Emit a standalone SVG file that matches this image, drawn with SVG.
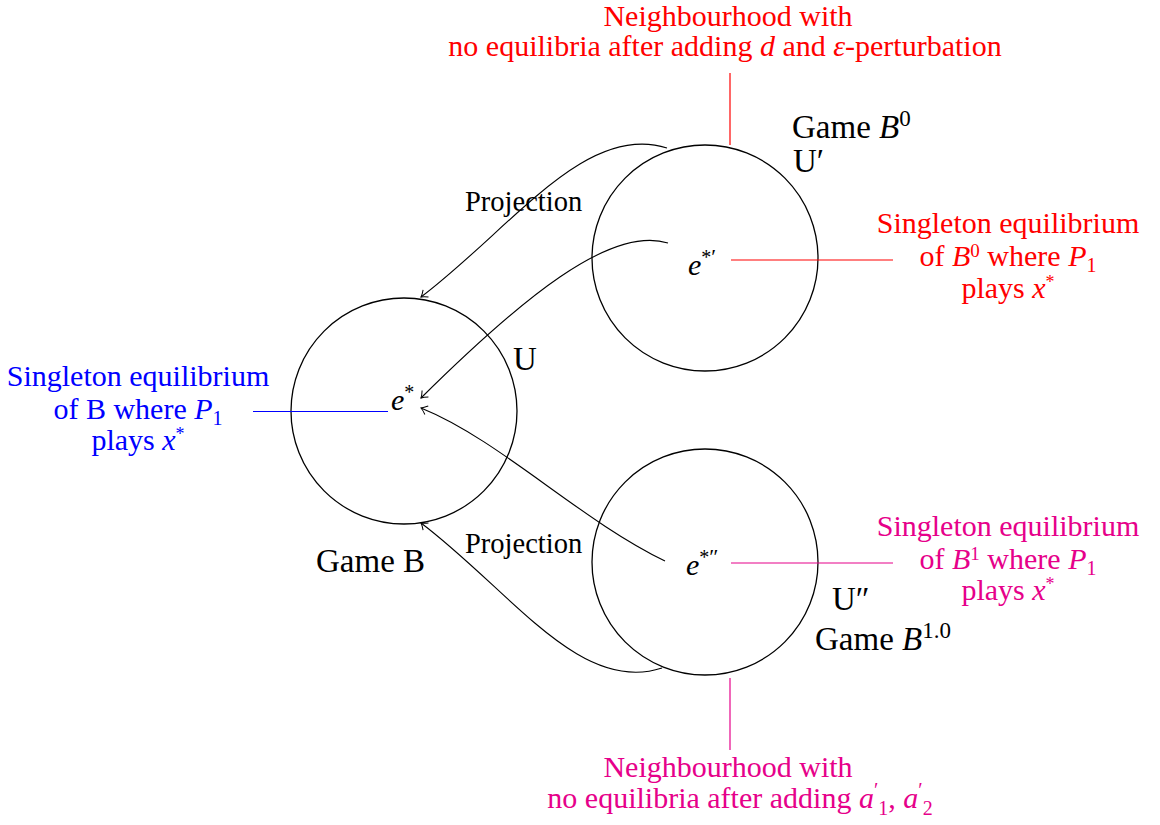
<svg xmlns="http://www.w3.org/2000/svg" width="1160" height="825" viewBox="0 0 1160 825">
<defs>
<marker id="to" markerUnits="userSpaceOnUse" markerWidth="14" markerHeight="14" refX="0" refY="0" viewBox="-8 -7 10 14" orient="auto" overflow="visible">
<path d="M-6,-4.5 Q-2.5,-1.2 0,0 Q-2.5,1.2 -6,4.5" fill="none" stroke="#000" stroke-width="1"/>
</marker>
</defs>
<style>
text{font-family:"Liberation Serif","Times New Roman",serif;}
.t{font-size:30px;text-anchor:middle;}
.g{font-size:33px;}
.p{font-size:28.5px;}
.m{font-style:italic;}
.red{fill:#ff0000;}
.blue{fill:#0000ff;}
.mag{fill:#e6008a;}
.lred{stroke:#ff0000;stroke-width:1.2;fill:none;}
.lblue{stroke:#0000ff;stroke-width:1;fill:none;}
.lmag{stroke:#e6008a;stroke-width:1.2;fill:none;}
.circ{fill:none;stroke:#000;stroke-width:1.3;}
.conn{fill:none;stroke:#000;stroke-width:1.1;marker-end:url(#to);}
</style>
<rect width="1160" height="825" fill="#fff"/>

<g id="nodeB">
<circle class="circ" cx="404" cy="411" r="113"/>
<text class="g" x="513" y="370">U</text>
<text class="g" x="316" y="572">Game B</text>
<text class="m" x="391" y="410" font-size="30">e<tspan font-size="20" dy="-11" font-style="normal">*</tspan></text>
</g>

<g id="nodeB0">
<circle class="circ" cx="705" cy="258" r="113"/>
<text class="g" x="792" y="138">Game <tspan class="m">B</tspan><tspan font-size="23" dy="-12">0</tspan></text>
<text class="g" x="793" y="172">U′</text>
<text class="m" x="688" y="275" font-size="30">e<tspan font-size="20" dy="-11" font-style="normal">*</tspan><tspan font-size="22" font-style="normal">′</tspan></text>
</g>

<g id="nodeB1">
<circle class="circ" cx="705" cy="562" r="113"/>
<text class="g" x="832" y="610">U″</text>
<text class="g" x="815" y="650">Game <tspan class="m">B</tspan><tspan font-size="23" dy="-12">1.0</tspan></text>
<text class="m" x="686" y="575" font-size="30">e<tspan font-size="20" dy="-11" font-style="normal">*</tspan><tspan font-size="22" font-style="normal">″</tspan></text>
</g>

<g id="labelTop">
<path class="lred" d="M730,73 V145"/>
<text class="t red" x="728" y="26">Neighbourhood with</text>
<text class="t red" x="725" y="56">no equilibria after adding <tspan class="m">d</tspan> and <tspan class="m">ε</tspan>-perturbation</text>
</g>

<g id="labelB0">
<path class="lred" d="M731,260 H893"/>
<text class="t red" x="1008" y="233">Singleton equilibrium</text>
<text class="t red" x="1008" y="266">of <tspan class="m">B</tspan><tspan font-size="19" dy="-9">0</tspan><tspan dy="9"> where </tspan><tspan class="m">P</tspan><tspan font-size="20" dy="6">1</tspan></text>
<text class="t red" x="1008" y="298">plays <tspan class="m">x</tspan><tspan font-size="18" dy="-10">*</tspan></text>
</g>

<g id="labelB">
<path class="lblue" d="M253,411.5 H388"/>
<text class="t blue" x="138" y="386">Singleton equilibrium</text>
<text class="t blue" x="138" y="419">of B where <tspan class="m">P</tspan><tspan font-size="20" dy="6">1</tspan></text>
<text class="t blue" x="138" y="450">plays <tspan class="m">x</tspan><tspan font-size="18" dy="-10">*</tspan></text>
</g>

<g id="labelB1">
<path class="lmag" d="M731,563 H893"/>
<text class="t mag" x="1008" y="536">Singleton equilibrium</text>
<text class="t mag" x="1008" y="569">of <tspan class="m">B</tspan><tspan font-size="19" dy="-9">1</tspan><tspan dy="9"> where </tspan><tspan class="m">P</tspan><tspan font-size="20" dy="6">1</tspan></text>
<text class="t mag" x="1008" y="600">plays <tspan class="m">x</tspan><tspan font-size="18" dy="-10">*</tspan></text>
</g>

<g id="labelBottom">
<path class="lmag" d="M730,678 V750"/>
<text class="t mag" x="728" y="777">Neighbourhood with</text>
<text class="t mag" x="740" y="808">no equilibria after adding <tspan class="m">a</tspan><tspan font-size="20" dy="-11">′</tspan><tspan font-size="20" dy="18">1</tspan><tspan dy="-7">, </tspan><tspan class="m">a</tspan><tspan font-size="20" dy="-11">′</tspan><tspan font-size="20" dy="18">2</tspan></text>
</g>

<g id="connectors">
<path class="conn" d="M667,148 C585,122 510,230 421,297"/>
<path class="conn" d="M668,243 C610,225 520,300 421,398"/>
<path class="conn" d="M665,561 C580,520 500,440 421,408"/>
<path class="conn" d="M662,668 C580,695 510,590 421,523"/>
<text class="p" x="465" y="211">Projection</text>
<text class="p" x="465" y="553">Projection</text>
</g>
</svg>
